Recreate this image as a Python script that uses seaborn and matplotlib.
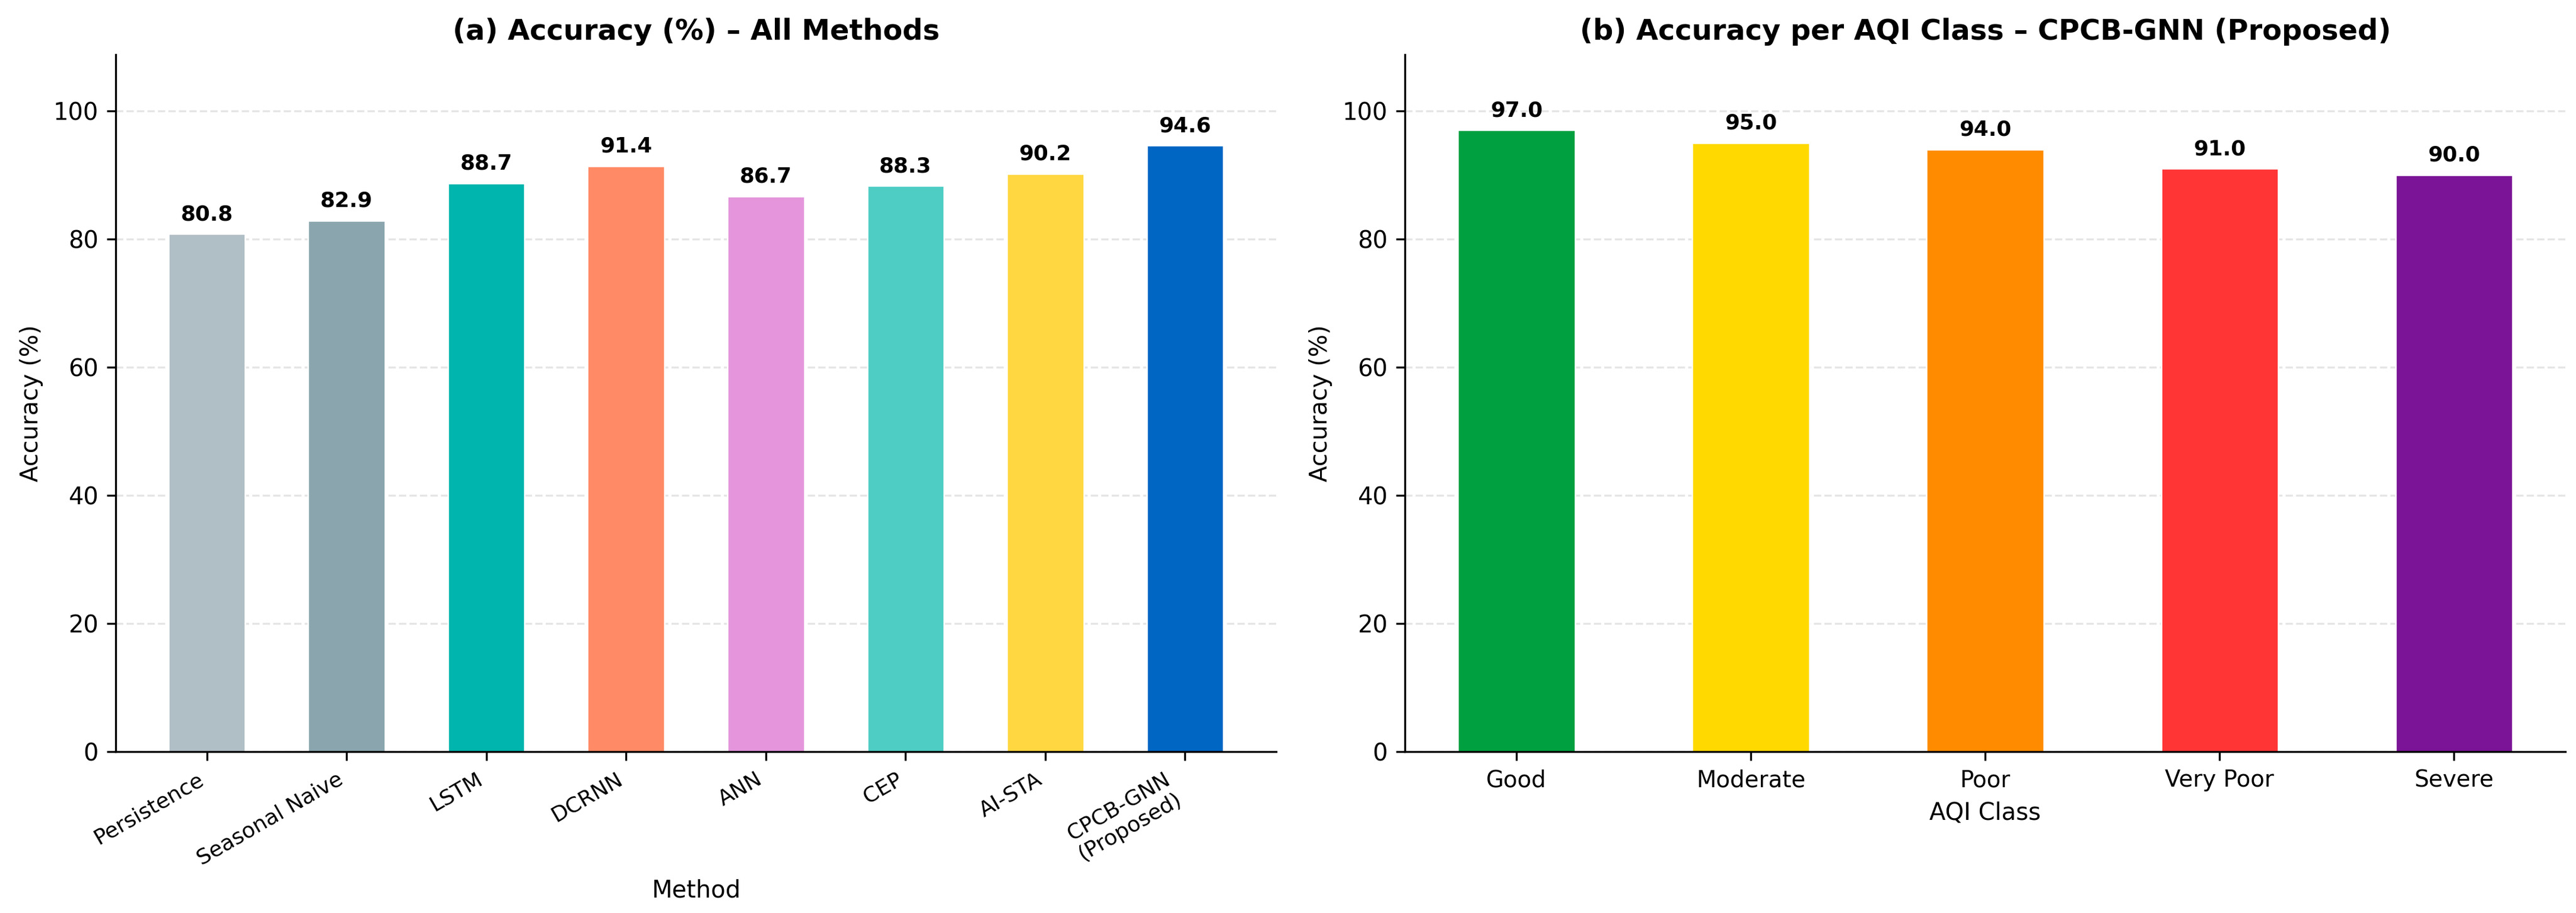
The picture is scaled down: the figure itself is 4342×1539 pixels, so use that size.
import matplotlib
matplotlib.use('Agg')
import pandas as pd
import seaborn as sns
from matplotlib import pyplot as plt

methods = ['Persistence', 'Seasonal Naive', 'LSTM', 'DCRNN', 'ANN', 'CEP', 'AI-STA',
           'CPCB-GNN\n(Proposed)']
method_acc = [80.8, 82.9, 88.7, 91.4, 86.7, 88.3, 90.2, 94.6]
method_colors = ['#B0BEC5', '#8AA5AE', '#00B5AD', '#FF8A65', '#E495DB', '#4ECDC4',
                 '#FFD740', '#0066C4']

aqi_classes = ['Good', 'Moderate', 'Poor', 'Very Poor', 'Severe']
class_acc = [97.0, 95.0, 94.0, 91.0, 90.0]
class_colors = ['#00A040', '#FFD900', '#FF8C00', '#FF3535', '#7B1496']

sns.set_style('ticks', rc={
    'text.color': 'black',
    'axes.labelcolor': 'black',
    'axes.edgecolor': 'black',
    'xtick.color': 'black',
    'ytick.color': 'black',
})
plt.rcParams['font.family'] = ['DejaVu Sans']


def bar_panel(ax, labels, values, colors, width, title, xlabel, tick_size, rotate):
    df = pd.DataFrame({'label': labels, 'acc': values})
    sns.barplot(data=df, x='label', y='acc', hue='label', palette=colors, legend=False,
                width=width, saturation=1, edgecolor='white', linewidth=0.6, ax=ax)
    n = len(labels)
    m = 0.05 * (n - 1 + width)
    ax.set_xlim(-width / 2 - m, n - 1 + width / 2 + m)
    ax.set_ylim(0, 108.8)
    ax.set_yticks([0, 20, 40, 60, 80, 100])
    for i, v in enumerate(values):
        ax.text(i, v + 1.5, f'{v:.1f}', ha='center', va='bottom',
                fontsize=8.6, fontweight='bold', color='black')
    ax.grid(axis='y', linestyle='--', alpha=0.5, linewidth=0.8)
    ax.set_axisbelow(True)
    ax.set_title(title, fontsize=11.5, fontweight='bold', color='black')
    ax.set_xlabel(xlabel, fontsize=9.6)
    ax.set_ylabel('Accuracy (%)', fontsize=9.6)
    ax.tick_params(axis='y', labelsize=9.6)
    if rotate:
        ax.set_xticks(range(n))
        ax.set_xticklabels(labels, rotation=30, ha='right', fontsize=tick_size)
    else:
        ax.tick_params(axis='x', labelsize=tick_size)
    sns.despine(ax=ax)


fig, axes = plt.subplots(1, 2, figsize=(4342 / 300, 1539 / 300), dpi=300)
fig.subplots_adjust(left=0.0449, right=0.9959, bottom=0.1767, top=0.9402, wspace=0.111)

bar_panel(axes[0], methods, method_acc, method_colors, 0.55,
          '(a) Accuracy (%) – All Methods', 'Method', 8.7, True)
bar_panel(axes[1], aqi_classes, class_acc, class_colors, 0.5,
          '(b) Accuracy per AQI Class – CPCB-GNN (Proposed)', 'AQI Class', 9.3, False)

fig.savefig('out.png', dpi=300)
plt.close()
